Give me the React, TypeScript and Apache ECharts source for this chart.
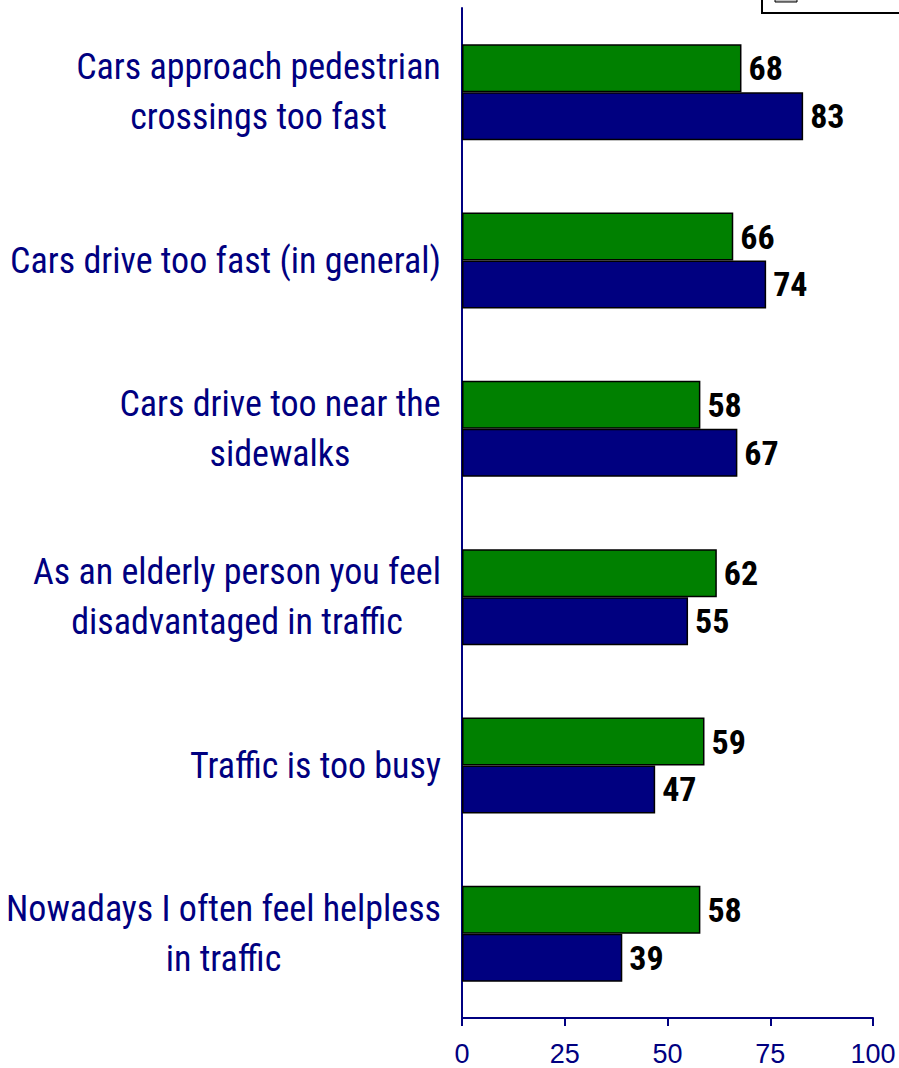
import React, { useEffect, useRef } from "react";
import * as echarts from "echarts";

const categories = [
  "Cars approach pedestrian\ncrossings too fast",
  "Cars drive too fast (in general)",
  "Cars drive too near the\nsidewalks",
  "As an elderly person you feel\ndisadvantaged in traffic",
  "Traffic is too busy",
  "Nowadays I often feel helpless\nin traffic",
];
const greenValues = [68, 66, 58, 62, 59, 58];
const blueValues = [83, 74, 67, 55, 47, 39];
const xTicks = [0, 25, 50, 75, 100];

const REGULAR = '"Liberation Sans", Arial, sans-serif';
const MARK = "nrwmark";

function pickNarrow(ctx: CanvasRenderingContext2D) {
  const w = (font: string, t: string) => {
    ctx.font = font;
    return ctx.measureText(t).width;
  };
  const sample = "Nowadays I often feel helpless";
  const avail = (f: string) =>
    w(`40px "${f}", monospace`, sample) !== w("40px monospace", sample) ||
    w(`40px "${f}", serif`, sample) !== w("40px serif", sample);
  const base = w(`40px "Liberation Sans", sans-serif`, sample);
  const named = [
    "Liberation Sans Narrow",
    "Arial Narrow",
    "Nimbus Sans Narrow",
    "DejaVu Sans Condensed",
    "Roboto Condensed",
    "Open Sans Condensed",
    "Noto Sans Condensed",
  ];
  for (const f of named) {
    if (avail(f) && w(`40px "${f}"`, sample) < base * 0.9) {
      return { family: `"${f}", sans-serif`, stretch: "", canvas: (s: string) => `${s} "${f}"` };
    }
  }
  const stretchable = ["Liberation Sans", "DejaVu Sans", "Noto Sans", "Open Sans", "Roboto", "Inter", "Lato"];
  for (const f of stretchable) {
    if (!avail(f)) continue;
    const n = w(`40px "${f}"`, sample);
    const c = w(`condensed 40px "${f}"`, sample);
    const ec = w(`extra-condensed 40px "${f}"`, sample);
    if (c < n * 0.92) {
      const kw = ec < c * 0.97 ? "extra-condensed" : "condensed";
      return {
        family: `"${f}", ${MARK}, sans-serif`,
        stretch: kw,
        canvas: (s: string) => `${kw} ${s} "${f}"`,
      };
    }
  }
  return { family: `"Liberation Sans", Arial, sans-serif`, stretch: "", canvas: (s: string) => `${s} "Liberation Sans"` };
}

export default function App() {
  const ref = useRef<HTMLDivElement>(null);
  useEffect(() => {
    if (!ref.current) return;
    const ctx = document.createElement("canvas").getContext("2d")!;
    const narrow = pickNarrow(ctx);
    let styleEl: HTMLStyleElement | null = null;
    if (narrow.stretch) {
      styleEl = document.createElement("style");
      styleEl.textContent = `[style*="${MARK}"]{font-stretch:${narrow.stretch} !important;}`;
      document.head.appendChild(styleEl);
    }
    const measure = (font: string, t: string) => {
      ctx.font = font;
      return ctx.measureText(t).width;
    };
    // font sizes fitted to the reference text widths
    const catSize = Math.min(
      42,
      Math.round((38 * 432) / measure(narrow.canvas("38px"), "Nowadays I often feel helpless"))
    );
    const valSize = Math.min(
      40,
      Math.round((36 * 34) / measure(narrow.canvas("bold 36px"), "83"))
    );

    const chart = echarts.init(ref.current, undefined, { renderer: "svg" });
    const rich: Record<string, any> = {};
    categories.forEach((c, i) => {
      const wmax = Math.max(...c.split("\n").map((l) => measure(narrow.canvas(`${catSize}px`), l)));
      rich["r" + i] = {
        width: Math.ceil(wmax) + 2,
        align: "center",
        fontSize: catSize,
        lineHeight: 50,
        color: "#000080",
        fontFamily: narrow.family,
      };
    });
    const labelStyle = {
      show: true,
      position: "right",
      distance: 7,
      color: "#000",
      fontWeight: "bold",
      fontSize: valSize,
      fontFamily: narrow.family,
    };
    chart.setOption({
      animation: false,
      backgroundColor: "#fff",
      grid: {
        left: 462,
        right: 26,
        top: 8,
        bottom: 50,
        containLabel: false,
        outerBoundsMode: "none",
      },
      xAxis: {
        type: "value",
        min: 0,
        max: 100,
        interval: 25,
        axisLine: { show: true, lineStyle: { color: "#000080", width: 2 } },
        axisTick: { show: true, length: 8, lineStyle: { color: "#000080", width: 2 } },
        splitLine: { show: false },
        axisLabel: {
          margin: 22,
          color: "#000080",
          fontSize: 27,
          fontFamily: REGULAR,
          formatter: (v: number) => (xTicks.includes(v) ? String(v) : ""),
        },
      },
      yAxis: {
        type: "category",
        inverse: true,
        data: categories,
        axisLine: { show: true, lineStyle: { color: "#000080", width: 2 } },
        axisTick: { show: false },
        axisLabel: {
          margin: 20,
          align: "right",
          formatter: (value: string, index: number) =>
            value
              .split("\n")
              .map((l) => `{r${index}|${l}}`)
              .join("\n"),
          rich,
        },
      },
      series: [
        {
          name: "Green",
          type: "bar",
          data: greenValues,
          barGap: "0%",
          barCategoryGap: "43%",
          itemStyle: { color: "#008000", borderColor: "#000", borderWidth: 1.5 },
          label: labelStyle,
        },
        {
          name: "Blue",
          type: "bar",
          data: blueValues,
          barGap: "0%",
          barCategoryGap: "43%",
          itemStyle: { color: "#000080", borderColor: "#000", borderWidth: 1.5 },
          label: labelStyle,
        },
      ],
      graphic: [
        {
          type: "rect",
          shape: { x: 762, y: -40, width: 160, height: 53 },
          style: { fill: "#fff", stroke: "#000", lineWidth: 2 },
          z: 10,
        },
        {
          type: "rect",
          shape: { x: 775, y: -12, width: 22, height: 14 },
          style: { fill: "#c0c0c0", stroke: "#000", lineWidth: 1 },
          z: 11,
        },
      ],
    });
    return () => {
      chart.dispose();
      if (styleEl) styleEl.remove();
    };
  }, []);
  return (
    <div
      ref={ref}
      style={{ position: "absolute", left: 0, top: 0, width: 899, height: 1068 }}
    />
  );
}
